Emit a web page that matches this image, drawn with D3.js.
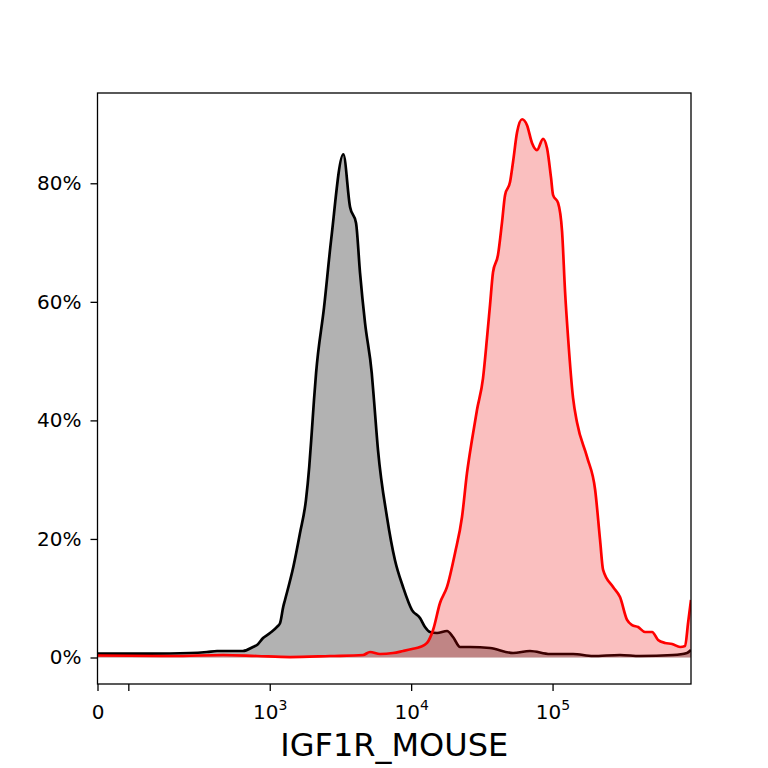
<!DOCTYPE html>
<html>
<head>
<meta charset="utf-8">
<script src="https://cdn.jsdelivr.net/npm/d3@7"></script>
<style>
  html, body { margin: 0; padding: 0; background: #fff; }
  svg { display: block; }
  text { font-family: "DejaVu Sans", sans-serif; fill: #000; }
</style>
</head>
<body>
<svg id="chart" width="768" height="768"></svg>
<script>
// ---- data (intensity, % of max) ----
const blackIntensity = [0,142,273,360,424,647,762,813,897,1005,1130,1183,1247,1282,1469,1637,1804,1903,1981,2055,2127,2422,2716,3315,3698,4076,4350,4721,5263,5461,5830,6745,7686,8762,10140,11550,12530,13600,15240,17930,19770,22170,26080,36130,52540,69240,95870,139600,193200,299800,415100,710500,892800,952800];
const blackPct       = [0.67,0.67,0.76,0.93,1.1,1.1,1.77,2.11,3.29,4.13,5.2,5.8,8.6,9.7,15.3,21.0,26.6,32.2,37.9,43.4,48.0,59.1,70.4,84.9,76.0,73.3,64.9,56.4,48.0,43.4,35.0,23.7,16.4,11.9,8.0,6.66,5.14,4.3,4.13,4.47,3.46,1.77,1.77,1.6,0.76,1.1,0.59,0.59,0.25,0.42,0.25,0.42,0.76,1.27];

const redIntensity = [0,207,468,813,1393,2668,4571,5119,6023,7443,8762,10140,11550,12950,14290,16000,17930,20420,22890,24820,26920,29230,32220,34390,36130,37930,41120,43950,46130,50030,52540,56110,60850,65970,71540,77580,85650,91430,97580,100900,109400,116800,122600,128800,139600,149100,175500,200000,216800,227700,267900,299900,336500,364900,402700,451200,505600,557500,625000,700400,797900,865300,908500,952800];
const redPct       = [0.34,0.25,0.42,0.25,0.08,0.25,0.42,0.93,0.59,0.76,1.1,1.43,1.77,2.45,4.64,9.19,11.9,17.6,23.7,31.1,36.7,41.8,47.1,53.9,59.5,65.0,67.9,73.5,78.0,80.2,83.6,88.6,90.8,89.8,86.8,85.6,87.5,85.9,80.9,78.0,76.7,71.8,61.7,53.9,43.8,39.6,33.8,28.3,19.8,14.8,11.9,10.2,6.33,5.48,5.14,4.3,4.3,2.95,2.45,2.28,1.77,1.94,5.82,9.7];

const xTickValues = [0, 100, 1000, 10000, 100000];
const xTickLabels = [["0",""], ["",""], ["10","3"], ["10","4"], ["10","5"]];
const yTickValues = [0, 20, 40, 60, 80];
const xLabel = "IGF1R_MOUSE";

// ---- layout ----
const L = 97.5, R = 691, T = 93, B = 684;
const svg = d3.select("#chart");

// logicle-like transform: linear near zero, log above 100
const logicle = v => v >= 100 ? Math.log10(v) : 1.782 + 0.218 * v / 100;
const xLin = d3.scaleLinear().domain([1.782, 5.979]).range([L, R]);
const x = v => xLin(logicle(v));
const y = d3.scaleLinear().domain([-4.47, 95.23]).range([B, T]);

const toPts = (xs, ys) => xs.map((v, i) => [v, ys[i]]);
const black = toPts(blackIntensity, blackPct);
const red = toPts(redIntensity, redPct);

svg.append("defs").append("clipPath").attr("id", "clip")
  .append("rect").attr("x", L).attr("y", T).attr("width", R - L).attr("height", B - T);

const area = d3.area().x(d => x(d[0])).y0(y(0)).y1(d => y(d[1])).curve(d3.curveMonotoneX);
const line = d3.line().x(d => x(d[0])).y(d => y(d[1])).curve(d3.curveMonotoneX);

const g = svg.append("g").attr("clip-path", "url(#clip)");
g.append("path").datum(black).attr("d", area).attr("fill", "rgba(0,0,0,0.3)");
g.append("path").datum(black).attr("d", line).attr("fill", "none").attr("stroke", "#000").attr("stroke-width", 2.7).attr("stroke-linejoin", "round");
g.append("path").datum(red).attr("d", area).attr("fill", "rgba(235,0,0,0.25)");
g.append("path").datum(red).attr("d", line).attr("fill", "none").attr("stroke", "#ff0000").attr("stroke-width", 2.7).attr("stroke-linejoin", "round");

// frame
svg.append("rect").attr("x", L).attr("y", T).attr("width", R - L).attr("height", B - T)
  .attr("fill", "none").attr("stroke", "#000").attr("stroke-width", 1.3);

// x axis
const xAxis = d3.axisBottom(xLin).tickValues(xTickValues.map(logicle)).tickSize(7).tickFormat("");
const gx = svg.append("g").attr("transform", `translate(0,${B})`).call(xAxis);
gx.select(".domain").remove();
gx.selectAll(".tick line").attr("stroke", "#000").attr("stroke-width", 1.3);
gx.selectAll(".tick").each(function(d, i) {
  const [base, sup] = xTickLabels[i];
  const t = d3.select(this).select("text").attr("y", 35).attr("dy", null)
    .attr("font-size", 20).attr("text-anchor", "middle").text(null);
  if (base) t.append("tspan").text(base);
  if (sup) t.append("tspan").attr("font-size", 14).attr("dy", -9).text(sup);
});

// y axis
const yAxis = d3.axisLeft(y).tickValues(yTickValues).tickSize(7).tickPadding(9).tickFormat(d => d + "%");
const gy = svg.append("g").attr("transform", `translate(${L},0)`).call(yAxis);
gy.select(".domain").remove();
gy.selectAll(".tick line").attr("stroke", "#000").attr("stroke-width", 1.3);
gy.selectAll(".tick text").attr("font-size", 20).attr("font-family", "DejaVu Sans");

// x label
svg.append("text").attr("x", (L + R) / 2).attr("y", 756).attr("text-anchor", "middle")
  .attr("font-size", 32).text(xLabel);
</script>
</body>
</html>
